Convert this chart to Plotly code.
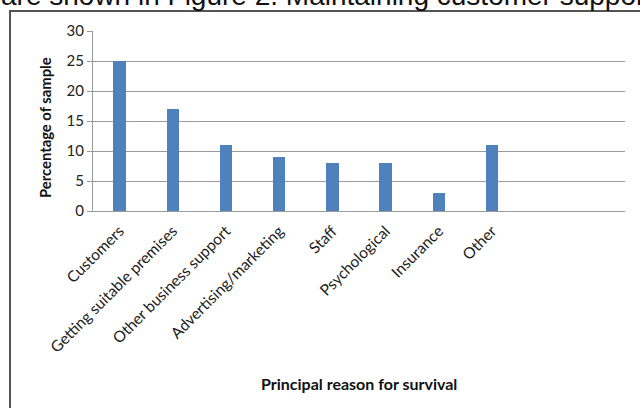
import plotly.graph_objects as go

categories = ["Customers", "Getting suitable premises", "Other business support",
              "Advertising/marketing", "Staff", "Psychological", "Insurance", "Other"]
values = [25, 17, 11, 9, 8, 8, 3, 11]
y_ticks = [0, 5, 10, 15, 20, 25, 30]

L, R, T, B = 93, 15, 31, 197
W, H = 640, 408
pw, ph = W - L - R, H - T - B

def px(x):
    return (x - L) / pw

def py(y):
    return (H - B - y) / ph

fig = go.Figure()
fig.add_trace(go.Bar(
    x=list(range(len(categories))), y=values,
    marker=dict(color="#4F81BD", line=dict(width=0)),
    width=0.23,
))

font_fam = "Lato, 'Open Sans', sans-serif"
fig.update_layout(
    width=W, height=H,
    margin=dict(l=L, r=R, t=T, b=B, pad=0),
    paper_bgcolor="white", plot_bgcolor="white",
    showlegend=False,
    bargap=0,
    xaxis=dict(
        range=[-0.5, 9.5],
        tickmode="array", tickvals=list(range(len(categories))), ticktext=categories,
        tickangle=-45, tickfont=dict(family=font_fam, size=15.5, color="#222"),
        showgrid=False, showline=True, linecolor="#9a9a9a", linewidth=1,
        ticks="outside", ticklen=4, tickcolor="rgba(0,0,0,0)", zeroline=False,
        automargin=False,
    ),
    yaxis=dict(
        range=[0, 30], tickvals=y_ticks,
        tickfont=dict(family=font_fam, size=15, color="#222"),
        showgrid=True, gridcolor="#9a9a9a", gridwidth=1,
        showline=True, linecolor="#9a9a9a", linewidth=1,
        ticks="outside", ticklen=5, tickcolor="#9a9a9a",
        zeroline=False,
        automargin=False,
    ),
)

# axis titles
fig.add_annotation(
    xref="paper", yref="paper", x=px(359), y=py(383), xanchor="center", yanchor="middle",
    text="<b>Principal reason for survival</b>", showarrow=False,
    font=dict(family=font_fam, size=16, color="#111"),
)
fig.add_annotation(
    xref="paper", yref="paper", x=px(45), y=py(128), xanchor="center", yanchor="middle",
    text="<b>Percentage of sample</b>", showarrow=False, textangle=-90,
    font=dict(family=font_fam, size=14.8, color="#111"),
)

# frame border
fig.add_shape(type="rect", xref="paper", yref="paper",
              x0=px(10), x1=px(660), y0=py(11), y1=py(430),
              line=dict(color="#555555", width=2), fillcolor="rgba(0,0,0,0)", layer="below")

# cut-off text from the surrounding document
fig.add_annotation(
    xref="paper", yref="paper", x=px(-1), y=py(-5), xanchor="left", yanchor="middle",
    text="are shown in Figure 2. Maintaining customer support", showarrow=False,
    font=dict(family="Liberation Sans, Arial, sans-serif", size=28, color="#111"),
)

fig.write_html("out.html")
